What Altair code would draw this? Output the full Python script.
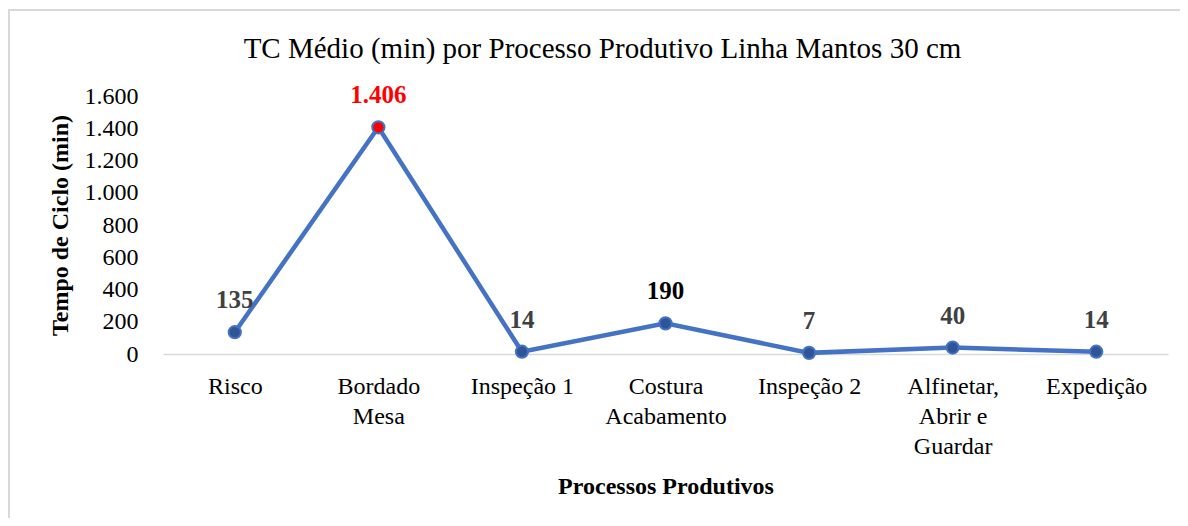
import altair as alt
import pandas as pd

categories = ["Risco", "Bordado\nMesa", "Inspeção 1", "Costura\nAcabamento",
              "Inspeção 2", "Alfinetar,\nAbrir e\nGuardar", "Expedição"]
values = [135, 1406, 14, 190, 7, 40, 14]
y_ticks = [0, 200, 400, 600, 800, 1000, 1200, 1400, 1600]

df = pd.DataFrame({"cat": categories, "val": values})

FONT = "Liberation Serif"
W, H = 1005, 258

x_enc = alt.X("cat:N", sort=categories,
              scale=alt.Scale(type="point", padding=0.5),
              axis=alt.Axis(title="Processos Produtivos", labelAngle=0,
                            labelExpr="split(datum.label, '\\n')",
                            labelFont=FONT, labelFontSize=24, labelColor="#000000",
                            labelLineHeight=30, labelPadding=20, labelBaseline="top",
                            ticks=False, domainColor="#D9D9D9", domainWidth=1.5,
                            titleFont=FONT, titleFontSize=24, titleFontWeight="bold",
                            titleColor="#000000", titleY=132, titleBaseline="middle"))
y_enc = alt.Y("val:Q", scale=alt.Scale(domain=[0, 1600], nice=False),
              axis=alt.Axis(title="Tempo de Ciclo (min)", values=y_ticks, grid=False,
                            domain=False, ticks=False, labelPadding=25,
                            labelExpr="replace(format(datum.value, ','), ',', '.')",
                            labelFont=FONT, labelFontSize=24, labelColor="#000000",
                            titleFont=FONT, titleFontSize=24, titleFontWeight="bold",
                            titleColor="#000000", titleX=-103, titleY=129,
                            titleAngle=-90, titleBaseline="middle", titleAlign="center"))

base = alt.Chart(df).encode(x=x_enc, y=y_enc)

line = base.mark_line(color="#4472C4", strokeWidth=4.5)
pts = base.mark_point(filled=True, size=150, strokeWidth=2, stroke="#4472C4", opacity=1).encode(
    fill=alt.Fill("cat:N", scale=alt.Scale(domain=categories,
                  range=["#2F5597", "#FF0000", "#2F5597", "#2F5597", "#2F5597", "#2F5597", "#2F5597"]),
                  legend=None))
labels = base.mark_text(font=FONT, fontSize=25, fontWeight="bold", dy=-32, baseline="middle").encode(
    text=alt.Text("lbl:N"),
    color=alt.Color("cat:N", scale=alt.Scale(domain=categories,
                    range=["#404040", "#FF0000", "#404040", "#000000", "#404040", "#404040", "#404040"]),
                    legend=None)
).transform_calculate(lbl="replace(format(datum.val, ','), ',', '.')")

border = alt.Chart(alt.Data(values=[{}])).mark_rect(
    fill="transparent", stroke="#D9D9D9", strokeWidth=2, clip=False
).encode(x=alt.value(-154), y=alt.value(-86), x2=alt.value(W + 40), y2=alt.value(H + 200))

chart = alt.layer(border, line, pts, labels).properties(
    width=W, height=H,
    title=alt.TitleParams("TC Médio (min) por Processo Produtivo Linha Mantos 30 cm",
                          font=FONT, fontSize=29, fontWeight="normal", color="#000000",
                          anchor="middle", dx=-63, offset=-55),
    padding={"left": 155, "top": 88, "right": 12, "bottom": 164},
    autosize=alt.AutoSizeParams(type="none"),
).configure(background="white").configure_view(strokeWidth=0, stroke="transparent")

chart.save("out.html", embed_options={"renderer": "svg", "actions": False})
